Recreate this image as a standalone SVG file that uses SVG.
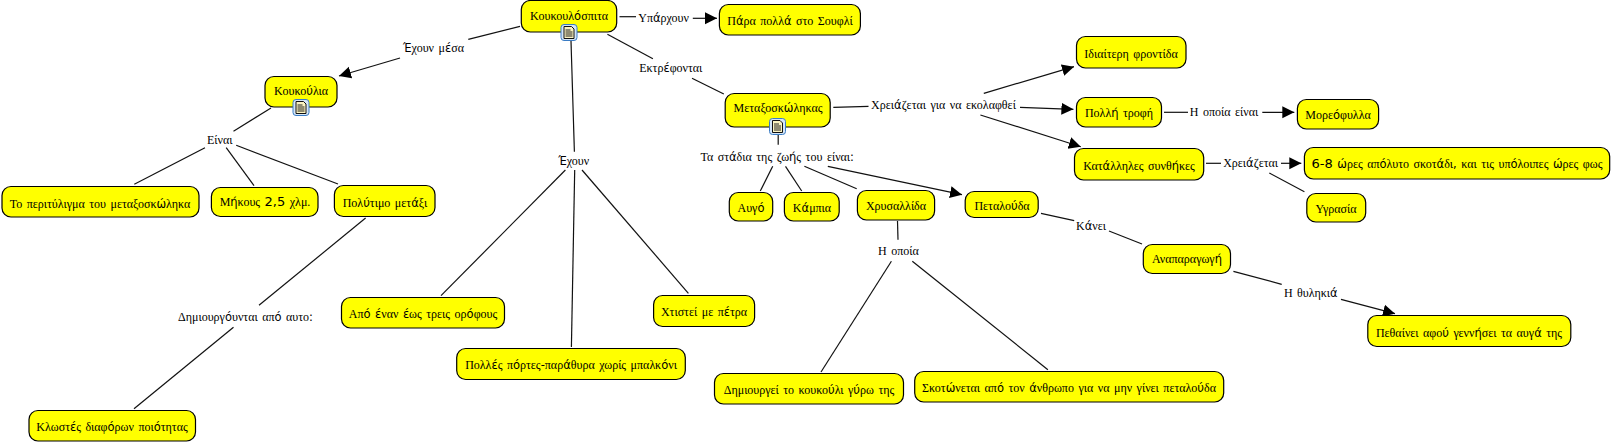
<svg xmlns="http://www.w3.org/2000/svg" xmlns:xlink="http://www.w3.org/1999/xlink" width="1612" height="443" viewBox="0 0 1612 443">
<style>
text{font-family:"Liberation Serif","Noto Sans CJK SC",serif;font-size:12px;text-anchor:middle;fill:#000;word-spacing:1.5px}
.s{font-family:"DejaVu Sans",sans-serif;font-size:11.5px}
.n{fill:#ff0;stroke:#000;stroke-width:1.2}
#connectors line{stroke:#111;stroke-width:1.2}
.a{marker-end:url(#arrow)}
</style>
<defs>
<marker id="arrow" markerUnits="userSpaceOnUse" markerWidth="14" markerHeight="14" refX="12" refY="7" orient="auto"><path d="M0 1L12 7L0 13Z" fill="#000"/></marker>
<g id="note"><rect x="0.5" y="0.5" width="16" height="16" rx="3" fill="#d5e6f8" stroke="#3a7cc4"/><path d="M3.5 2.5H11L13.5 5V14.5H3.5Z" fill="#fbf3c0" stroke="#111"/><path d="M5 6H10M5 8H12M5 10H12M5 12H12" stroke="#222" fill="none"/></g>
</defs>
<rect width="1612" height="443" fill="#fff"/>
<g id="connectors">
<line x1="520" y1="26.3" x2="468.3" y2="39.3"/><line class="a" x1="400" y1="58" x2="339" y2="76"/>
<line x1="271" y1="108" x2="233.5" y2="131.3"/><line x1="205" y1="147.7" x2="134.3" y2="184.3"/><line x1="226.2" y1="147.7" x2="254" y2="185.7"/><line x1="236.2" y1="145.3" x2="338" y2="184"/>
<line x1="365.6" y1="218" x2="259" y2="305.3"/><line x1="233.5" y1="327.3" x2="134" y2="408.7"/>
<line x1="619.5" y1="16.7" x2="636" y2="16.7"/><line class="a" x1="692.8" y1="18.3" x2="717" y2="18.3"/>
<line x1="607.4" y1="34.3" x2="652.9" y2="58.7"/><line x1="692" y1="78.3" x2="723.8" y2="94"/>
<line x1="571" y1="41" x2="574.4" y2="151.7"/><line x1="565.4" y1="170" x2="441" y2="295.7"/><line x1="574.7" y1="170" x2="571.4" y2="347"/><line x1="582" y1="170" x2="688.4" y2="293.3"/>
<line x1="833.3" y1="107.3" x2="868.5" y2="106.3"/><line class="a" x1="983.8" y1="93.3" x2="1074" y2="66.7"/><line class="a" x1="1020" y1="107.3" x2="1073.4" y2="109.3"/><line class="a" x1="980.4" y1="115" x2="1080.8" y2="146.7"/>
<line x1="1164" y1="112.3" x2="1188" y2="112.3"/><line class="a" x1="1262.3" y1="112.3" x2="1294.3" y2="112.3"/>
<line x1="1206" y1="163.3" x2="1221" y2="163.3"/><line class="a" x1="1281" y1="163.3" x2="1301.3" y2="163.3"/><line x1="1269.3" y1="173" x2="1304.4" y2="191.7"/>
<line x1="778.2" y1="135" x2="778.2" y2="144.7"/><line x1="772.7" y1="166.3" x2="760.3" y2="191"/><line x1="785.5" y1="166.3" x2="801.7" y2="191"/><line x1="804.4" y1="166.3" x2="856.7" y2="188.7"/><line class="a" x1="827.8" y1="166.3" x2="962" y2="194.7"/>
<line x1="897.5" y1="221" x2="898" y2="239.7"/><line x1="891.4" y1="261.3" x2="821" y2="372"/><line x1="912.3" y1="261.3" x2="1047.9" y2="369.7"/>
<line x1="1041" y1="213.3" x2="1074.2" y2="220.7"/><line x1="1109" y1="231" x2="1142" y2="244"/>
<line x1="1233.4" y1="271.3" x2="1281.7" y2="284.3"/><line class="a" x1="1341" y1="299.3" x2="1395" y2="313.7"/>
</g>
<g id="n-koukoulospita"><rect class="n" x="521.3" y="0.5" width="95.4" height="31.5" rx="9"/><text x="569" y="20">Κουκουλ<tspan class="s">ό</tspan>σπιτα</text><use xlink:href="#note" href="#note" x="560.5" y="24"/></g>
<g id="n-para"><rect class="n" x="719.4" y="4.5" width="141" height="30.5" rx="9"/><text x="790" y="25">Π<tspan class="s">ά</tspan>ρα πολλ<tspan class="s">ά</tspan> στο Σουφλί</text></g>
<g id="n-koukoulia"><rect class="n" x="265" y="76.5" width="72" height="30.5" rx="9"/><text x="301" y="95">Κουκο<tspan class="s">ύ</tspan>λια</text><use xlink:href="#note" href="#note" x="292.5" y="99"/></g>
<g id="n-perit"><rect class="n" x="2" y="186.5" width="197" height="30.5" rx="9"/><text x="100" y="208">Το περιτύλιγμα του μεταξοσκ<tspan class="s">ώ</tspan>ληκα</text></g>
<g id="n-mikos"><rect class="n" x="211.4" y="187.5" width="106.6" height="29" rx="9"/><text x="265" y="206">Μ<tspan class="s">ή</tspan>κους <tspan class="s" style="font-size:13px">2,5</tspan> χλμ.</text></g>
<g id="n-politimo"><rect class="n" x="334.4" y="185.5" width="100.6" height="31" rx="9"/><text x="385" y="207">Πολ<tspan class="s">ύ</tspan>τιμο μετ<tspan class="s">ά</tspan>ξι</text></g>
<g id="n-klostes"><rect class="n" x="29" y="410.5" width="166.5" height="30.5" rx="9"/><text x="112" y="431">Κλωστ<tspan class="s">έ</tspan>ς διαφ<tspan class="s">ό</tspan>ρων ποι<tspan class="s">ό</tspan>τητας</text></g>
<g id="n-apo"><rect class="n" x="341.5" y="297.5" width="163" height="30.5" rx="9"/><text x="423" y="318">Απ<tspan class="s">ό</tspan> <tspan class="s">έ</tspan>ναν <tspan class="s">έ</tspan>ως τρεις ορ<tspan class="s">ό</tspan>φους</text></g>
<g id="n-polles"><rect class="n" x="456.7" y="348.5" width="228.6" height="31" rx="9"/><text x="571" y="369">Πολλ<tspan class="s">έ</tspan>ς π<tspan class="s">ό</tspan>ρτες<tspan class="s">-</tspan>παρ<tspan class="s">ά</tspan>θυρα χωρίς μπαλκ<tspan class="s">ό</tspan>νι</text></g>
<g id="n-xtistei"><rect class="n" x="653.6" y="295.5" width="101" height="31" rx="9"/><text x="704" y="316">Χτιστεί με π<tspan class="s">έ</tspan>τρα</text></g>
<g id="n-metaxo"><rect class="n" x="725.2" y="93.5" width="105" height="33.5" rx="9"/><text x="778" y="112">Μεταξοσκ<tspan class="s">ώ</tspan>ληκας</text><use xlink:href="#note" href="#note" x="769" y="118"/></g>
<g id="n-avgo"><rect class="n" x="729.3" y="192.5" width="43.4" height="28.5" rx="9"/><text x="751" y="212">Αυγ<tspan class="s">ό</tspan></text></g>
<g id="n-kampia"><rect class="n" x="784.4" y="192.5" width="54.8" height="28.5" rx="9"/><text x="812" y="212">Κ<tspan class="s">ά</tspan>μπια</text></g>
<g id="n-xrysalida"><rect class="n" x="857.4" y="190.5" width="77.2" height="29.5" rx="9"/><text x="896" y="210">Χρυσαλλίδα</text></g>
<g id="n-petalouda"><rect class="n" x="965.2" y="191.5" width="73" height="26" rx="9"/><text x="1002" y="210">Πεταλο<tspan class="s">ύ</tspan>δα</text></g>
<g id="n-idiaiteri"><rect class="n" x="1076.5" y="36.5" width="109.5" height="31.5" rx="9"/><text x="1131" y="58">Ιδιαίτερη φροντίδα</text></g>
<g id="n-polli"><rect class="n" x="1076.5" y="97.5" width="85" height="29.5" rx="9"/><text x="1119" y="117">Πολλ<tspan class="s">ή</tspan> τροφή</text></g>
<g id="n-moreo"><rect class="n" x="1297.4" y="99.5" width="81.2" height="29.5" rx="9"/><text x="1338" y="119">Μορε<tspan class="s">ό</tspan>φυλλα</text></g>
<g id="n-katalliles"><rect class="n" x="1074.5" y="148.5" width="129.2" height="31.5" rx="9"/><text x="1139" y="170">Κατ<tspan class="s">ά</tspan>λληλες συνθ<tspan class="s">ή</tspan>κες</text></g>
<g id="n-68"><rect class="n" x="1304.4" y="147.5" width="305.3" height="31.5" rx="9"/><text x="1457" y="168"><tspan class="s" style="font-size:13px">6-8</tspan> <tspan class="s">ώ</tspan>ρες απ<tspan class="s">ό</tspan>λυτο σκοτ<tspan class="s">ά</tspan>δι<tspan class="s">,</tspan> και τις υπ<tspan class="s">ό</tspan>λοιπες <tspan class="s">ώ</tspan>ρες φως</text></g>
<g id="n-ygrasia"><rect class="n" x="1306.8" y="193.5" width="58.9" height="28.5" rx="9"/><text x="1336" y="213">Υγρασία</text></g>
<g id="n-anaparagogi"><rect class="n" x="1143.3" y="244.5" width="87.2" height="29" rx="9"/><text x="1187" y="263">Αναπαραγωγ<tspan class="s">ή</tspan></text></g>
<g id="n-pethainei"><rect class="n" x="1367.8" y="315.5" width="203" height="31" rx="9"/><text x="1469" y="337">Πεθαίνει αφο<tspan class="s">ύ</tspan> γενν<tspan class="s">ή</tspan>σει τα αυγ<tspan class="s">ά</tspan> της</text></g>
<g id="n-dimiourgei"><rect class="n" x="714.5" y="373.5" width="189" height="30.5" rx="9"/><text x="809" y="394">Δημιουργεί το κουκο<tspan class="s">ύ</tspan>λι γ<tspan class="s">ύ</tspan>ρω της</text></g>
<g id="n-skotonetai"><rect class="n" x="914.7" y="371.5" width="309" height="30.5" rx="9"/><text x="1069" y="392">Σκοτ<tspan class="s">ώ</tspan>νεται απ<tspan class="s">ό</tspan> τον <tspan class="s">ά</tspan>νθρωπο για να μην γίνει πεταλο<tspan class="s">ύ</tspan>δα</text></g>
<g id="l-exoun-mesa"><text x="433.5" y="52"><tspan class="s">Έ</tspan>χουν μ<tspan class="s">έ</tspan>σα</text></g>
<g id="l-einai"><text x="219.7" y="144">Είναι</text></g>
<g id="l-dimiourgountai"><text x="245.5" y="321">Δημιουργ<tspan class="s">ό</tspan>υνται απ<tspan class="s">ό</tspan> αυτο<tspan class="s">:</tspan></text></g>
<g id="l-yparxoun"><text x="663.6" y="22">Υπ<tspan class="s">ά</tspan>ρχουν</text></g>
<g id="l-ektrefontai"><text x="670.8" y="72">Εκτρ<tspan class="s">έ</tspan>φονται</text></g>
<g id="l-exoun"><text x="573.7" y="165"><tspan class="s">Έ</tspan>χουν</text></g>
<g id="l-xreiazetai-ekol"><text x="943.5" y="109">Χρει<tspan class="s">ά</tspan>ζεται για να εκολαφθεί</text></g>
<g id="l-i-opoia-einai"><text x="1224" y="116">Η οποία είναι</text></g>
<g id="l-xreiazetai"><text x="1250.6" y="167">Χρει<tspan class="s">ά</tspan>ζεται</text></g>
<g id="l-stadia"><text x="777.2" y="161">Τα στ<tspan class="s">ά</tspan>δια της ζω<tspan class="s">ή</tspan>ς του είναι<tspan class="s">:</tspan></text></g>
<g id="l-i-opoia"><text x="898.4" y="255">Η οποία</text></g>
<g id="l-kanei"><text x="1091" y="230">Κ<tspan class="s">ά</tspan>νει</text></g>
<g id="l-thiliki"><text x="1310.8" y="297">Η θυληκι<tspan class="s">ά</tspan></text></g>
</svg>
